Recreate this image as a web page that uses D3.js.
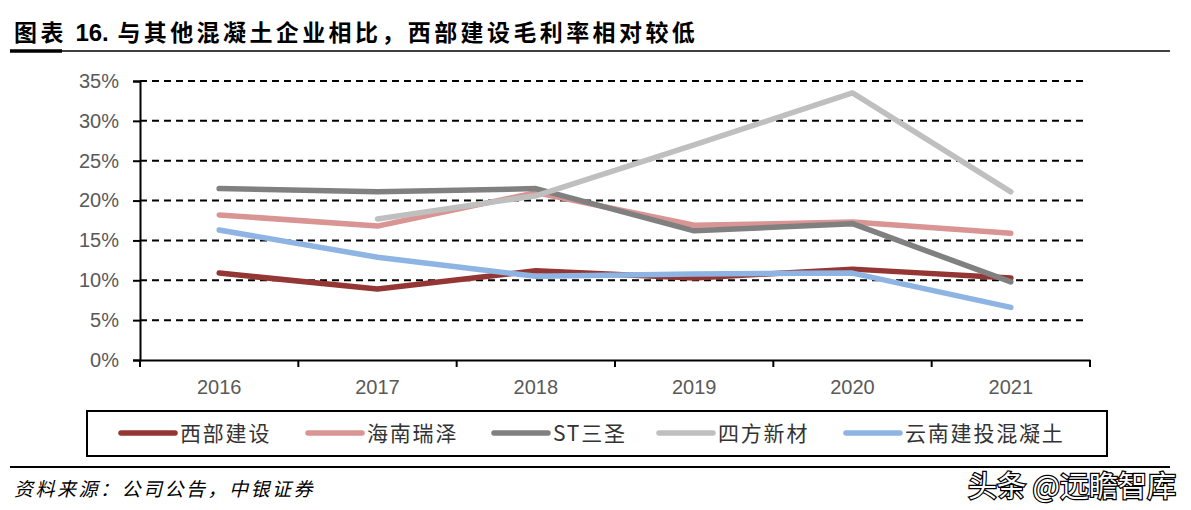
<!DOCTYPE html>
<html><head><meta charset="utf-8">
<script src="https://cdn.jsdelivr.net/npm/d3@7"></script>
<style>body{margin:0;background:#fff;} svg{display:block;}</style>
</head><body>
<svg id="c" width="1191" height="510"></svg>
<script>
const categories = ["2016","2017","2018","2019","2020","2021"];
const seriesNames = ["西部建设","海南瑞泽","ST三圣","四方新材","云南建投混凝土"];
const xibu   = [10.9, 8.9, 11.2, 10.3, 11.4, 10.3];
const hainan = [18.2, 16.8, 21.0, 16.9, 17.3, 15.9];
const stss   = [21.5, 21.1, 21.5, 16.2, 17.1, 9.8];
const sifang = [null, 17.7, 20.6, 27.0, 33.5, 21.1];
const yunnan = [16.3, 12.9, 10.5, 10.8, 10.9, 6.6];
const yTicks = [0,5,10,15,20,25,30,35];
const colors = ["#943634","#D99594","#808080","#BFBFBF","#8DB4E2"];
const seriesValues = [xibu, hainan, stss, sifang, yunnan];

const svg = d3.select("#c");
const cjk = "'Noto Sans CJK SC', sans-serif";
const lat = "'Liberation Sans', Arial, sans-serif";

// Title
const title = svg.append("text").attr("x",14).attr("y",41)
  .attr("font-family",cjk).attr("font-weight","bold").attr("font-size",23).attr("fill","#000");
title.append("tspan").attr("letter-spacing",3.4).text("图表 ");
title.append("tspan").attr("font-family",lat).attr("font-size",24).attr("letter-spacing",0).text("16.");
title.append("tspan").attr("letter-spacing",3.4).text(" 与其他混凝土企业相比，西部建设毛利率相对较低");
svg.append("line").attr("x1",10).attr("x2",1170).attr("y1",51).attr("y2",51)
  .attr("stroke","#000").attr("stroke-width",1.5);
svg.append("line").attr("x1",10).attr("x2",62).attr("y1",51).attr("y2",51)
  .attr("stroke","#000").attr("stroke-width",3.5);

const x = d3.scaleBand().domain(categories).range([140,1090]).padding(0);
const y = d3.scaleLinear().domain([0,35]).range([360,81]);

// gridlines
svg.append("g").selectAll("line").data(yTicks.filter(d=>d>0)).join("line")
  .attr("x1",140).attr("x2",1085).attr("y1",d=>y(d)).attr("y2",d=>y(d))
  .attr("stroke","#000").attr("stroke-width",2).attr("stroke-dasharray","7,5");

// y axis
const yAxis = d3.axisLeft(y).tickValues(yTicks).tickFormat(d=>d+"%").tickSize(7).tickPadding(14);
const gy = svg.append("g").attr("transform","translate(140,0)").call(yAxis);
gy.select(".domain").attr("stroke","#000").attr("stroke-width",2);
gy.selectAll(".tick line").attr("stroke","#000").attr("stroke-width",2);
gy.selectAll(".tick text").attr("font-family",lat).attr("font-size",20).attr("fill","#595959");

// x axis
const xAxis = d3.axisBottom(x).tickSize(0).tickPadding(20);
const gx = svg.append("g").attr("transform","translate(0,360)").call(xAxis);
gx.select(".domain").attr("stroke","#000").attr("stroke-width",2);
gx.selectAll(".tick text").attr("font-family",lat).attr("font-size",20).attr("fill","#595959");
// category boundary ticks
const bounds = categories.map(c=>x(c)).concat([x(categories[categories.length-1])+x.bandwidth()]);
svg.append("g").selectAll("line").data(bounds).join("line")
  .attr("x1",d=>d).attr("x2",d=>d).attr("y1",360).attr("y2",367)
  .attr("stroke","#000").attr("stroke-width",2);

// lines
const line = d3.line().defined(d=>d.v!=null)
  .x(d=>x(d.c)+x.bandwidth()/2).y(d=>y(d.v));
seriesValues.forEach((vals,i)=>{
  svg.append("path").datum(categories.map((c,j)=>({c:c,v:vals[j]})))
    .attr("d",line).attr("fill","none").attr("stroke",colors[i])
    .attr("stroke-width",5.5).attr("stroke-linecap","round").attr("stroke-linejoin","round");
});

// legend
svg.append("rect").attr("x",87).attr("y",411).attr("width",1020).attr("height",45)
  .attr("fill","#fff").attr("stroke","#000").attr("stroke-width",2);
const legX = [121,308,494,659,846];
seriesNames.forEach((n,i)=>{
  svg.append("line").attr("x1",legX[i]).attr("x2",legX[i]+54).attr("y1",433).attr("y2",433)
    .attr("stroke",colors[i]).attr("stroke-width",5.5).attr("stroke-linecap","round");
  svg.append("text").attr("x",legX[i]+59).attr("y",441)
    .attr("font-family",cjk).attr("font-size",21).attr("letter-spacing",1.8).attr("fill","#333")
    .text(n);
});

// footer
svg.append("line").attr("x1",10).attr("x2",1170).attr("y1",467).attr("y2",467)
  .attr("stroke","#000").attr("stroke-width",2);
svg.append("text").attr("x",14).attr("y",496)
  .attr("font-family",cjk).attr("font-size",19).attr("font-style","italic")
  .attr("letter-spacing",2.5).attr("fill","#000")
  .text("资料来源：公司公告，中银证券");
svg.append("text").attr("x",1176).attr("y",497).attr("text-anchor","end")
  .attr("font-family",cjk).attr("font-size",29).attr("fill","#fff")
  .attr("stroke","#000").attr("stroke-width",2.5).attr("paint-order","stroke")
  .text("头条 @远瞻智库");
</script>
</body></html>
